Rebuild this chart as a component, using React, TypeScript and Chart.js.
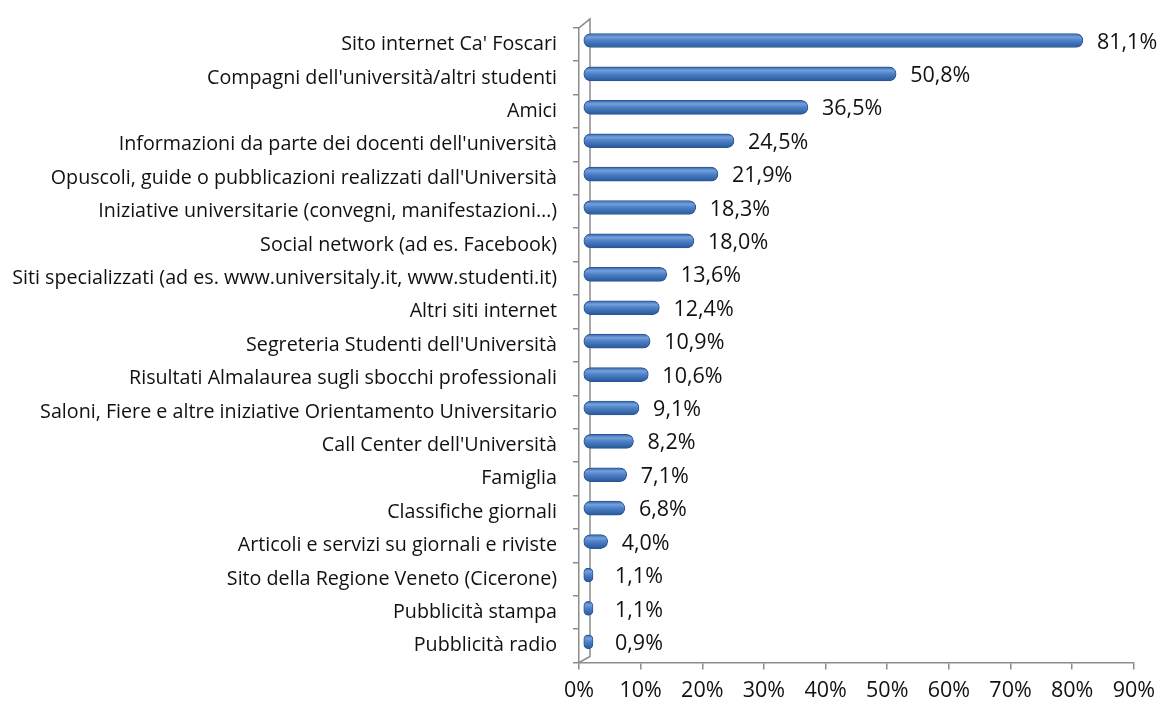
import React, { useEffect, useRef } from "react";
import { Chart, registerables } from "chart.js";

Chart.register(...registerables);

const categories: string[] = [
  "Sito internet Ca' Foscari",
  "Compagni dell'università/altri studenti",
  "Amici",
  "Informazioni da parte dei docenti dell'università",
  "Opuscoli, guide o pubblicazioni realizzati dall'Università",
  "Iniziative universitarie (convegni, manifestazioni…)",
  "Social network (ad es. Facebook)",
  "Siti specializzati (ad es. www.universitaly.it, www.studenti.it)",
  "Altri siti internet",
  "Segreteria Studenti dell'Università",
  "Risultati Almalaurea sugli sbocchi professionali",
  "Saloni, Fiere e altre iniziative Orientamento Universitario",
  "Call Center dell'Università",
  "Famiglia",
  "Classifiche giornali",
  "Articoli e servizi su giornali e riviste",
  "Sito della Regione Veneto (Cicerone)",
  "Pubblicità stampa",
  "Pubblicità radio",
];

const values: number[] = [
  81.1, 50.8, 36.5, 24.5, 21.9, 18.3, 18.0, 13.6, 12.4, 10.9, 10.6, 9.1, 8.2,
  7.1, 6.8, 4.0, 1.1, 1.1, 0.9,
];

const xTicks: number[] = [0, 10, 20, 30, 40, 50, 60, 70, 80, 90];

const FONT = "'Open Sans', 'DejaVu Sans', sans-serif";
const AXIS_GRAY = "#8c8c8c";
const DX = 4;
const DY = -4;

const fmt = (v: number) => v.toFixed(1).replace(".", ",") + "%";

const depthPlugin = {
  id: "depth",
  beforeDatasetsDraw(chart: any) {
    const ctx = chart.ctx;
    const { left, top, bottom } = chart.chartArea;
    ctx.save();
    ctx.strokeStyle = AXIS_GRAY;
    ctx.lineWidth = 1.5;
    ctx.beginPath();
    ctx.moveTo(left, top);
    ctx.lineTo(left + 11, top - 9);
    ctx.lineTo(left + 11, bottom - 6);
    ctx.lineTo(left, bottom);
    ctx.stroke();
    ctx.restore();
    ctx.save();
    ctx.translate(DX, DY);
  },
  afterDatasetsDraw(chart: any) {
    const ctx = chart.ctx;
    ctx.restore();
    const meta = chart.getDatasetMeta(0);
    ctx.save();
    ctx.font = `21.5px ${FONT}`;
    ctx.fillStyle = "#111";
    ctx.textAlign = "left";
    ctx.textBaseline = "middle";
    meta.data.forEach((el: any, i: number) => {
      const x = Math.max(el.x + 18, chart.chartArea.left + 36);
      ctx.fillText(fmt(values[i]), x, el.y - 2);
    });
    ctx.restore();
  },
};

export default function App() {
  const ref = useRef<HTMLCanvasElement | null>(null);

  useEffect(() => {
    document.body.style.margin = "0";
    const canvas = ref.current!;
    const chart = new Chart(canvas, {
      type: "bar",
      data: {
        labels: categories,
        datasets: [
          {
            data: values,
            barThickness: 14,
            minBarLength: 10,
            borderRadius: 7,
            borderSkipped: false,
            borderWidth: 1,
            borderColor: "#2a5696",
            backgroundColor: (c: any) => {
              const ch = c.chart;
              const ys = ch.scales?.y;
              if (!ch.chartArea || !ys || c.dataIndex === undefined) return "#4f81bd";
              const cy = ys.getPixelForValue(c.dataIndex);
              const g = ch.ctx.createLinearGradient(0, cy - 7, 0, cy + 7);
              g.addColorStop(0, "#3466aa");
              g.addColorStop(0.25, "#74a0dc");
              g.addColorStop(0.5, "#4d80c6");
              g.addColorStop(1, "#28589a");
              return g;
            },
          },
        ],
      },
      options: {
        indexAxis: "y",
        animation: false,
        responsive: true,
        maintainAspectRatio: false,
        layout: { padding: { top: 22, right: 27, bottom: 0, left: 0 } },
        plugins: {
          legend: { display: false },
          tooltip: { enabled: false },
        },
        scales: {
          y: {
            type: "category",
            afterFit: (s: any) => {
              s.width = 579;
            },
            grid: {
              display: true,
              drawOnChartArea: false,
              drawTicks: true,
              tickLength: 6,
              color: AXIS_GRAY,
              lineWidth: 1.5,
              offset: true,
            },
            border: { display: true, color: AXIS_GRAY, width: 1.5 },
            ticks: {
              color: "#111",
              font: { family: FONT, size: 19.7 },
              padding: 16,
              autoSkip: false,
            },
          },
          x: {
            type: "linear",
            min: 0,
            max: 90,
            afterFit: (s: any) => {
              s.height = 44.5;
            },
            afterBuildTicks: (s: any) => {
              s.ticks = xTicks.map((v) => ({ value: v }));
            },
            grid: {
              display: true,
              drawOnChartArea: false,
              drawTicks: true,
              tickLength: 7,
              color: AXIS_GRAY,
              lineWidth: 1.5,
            },
            border: { display: true, color: AXIS_GRAY, width: 1.5 },
            ticks: {
              color: "#111",
              font: { family: FONT, size: 21.5 },
              padding: 8,
              callback: (v: any) => v + "%",
            },
          },
        },
      } as any,
      plugins: [depthPlugin],
    });
    return () => chart.destroy();
  }, []);

  return (
    <div style={{ position: "fixed", left: 0, top: 0, width: 1163, height: 707, background: "#fff" }}>
      <canvas ref={ref} />
    </div>
  );
}
